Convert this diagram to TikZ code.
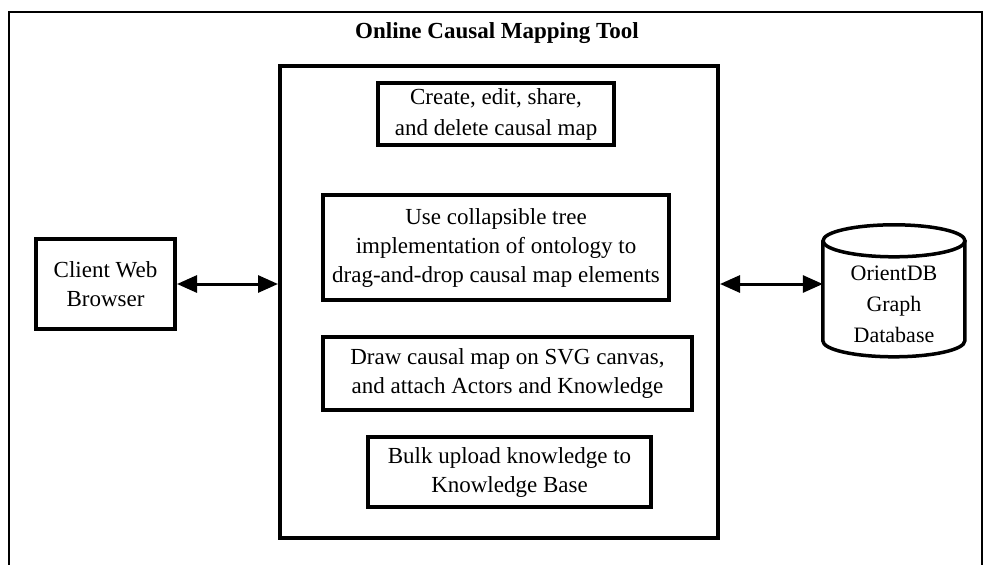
\documentclass[tikz,border=0pt]{standalone}
\usepackage{fontspec}
\setmainfont{Liberation Serif}
\usetikzlibrary{arrows.meta}
\begin{document}
\begin{tikzpicture}[x=1pt,y=-1pt,
  box/.style={draw, line width=4pt, align=center, inner sep=0pt,
    font=\fontsize{23}{29}\selectfont},
  link/.style={line width=3pt,
    {Triangle[length=20pt,width=17pt]}-{Triangle[length=20pt,width=17pt]}},
  frame/.style={line width=2pt},
  dbline/.style={line width=3.5pt},
  ]
\useasboundingbox (0,0) rectangle (983,565);

% outer frame (open at the bottom)
\draw[frame] (9,565) -- (9,12) -- (982,12) -- (982,565);

% title
\node[font=\fontsize{23}{28}\selectfont\bfseries] (title) at (497,33) {Online Causal Mapping Tool};

% tool container and its functions
\node[box, minimum width=438, minimum height=472] (main) at (499,302) {};
\node[box, minimum width=236, minimum height=62,
  font=\fontsize{23}{31}\selectfont] (create) at (496,114)
  {Create, edit, share,\\and delete causal map};
\node[box, minimum width=346, minimum height=105] (tree) at (496,247.5)
  {Use collapsible tree\\implementation of ontology to\\drag-and-drop causal map elements};
\node[box, minimum width=369, minimum height=73] (draw) at (507.5,373.5)
  {Draw causal map on SVG canvas,\\and attach Actors and Knowledge};
\node[box, minimum width=283, minimum height=70] (bulk) at (509.5,472)
  {Bulk upload knowledge to\\Knowledge Base};

% client
\node[box, minimum width=139, minimum height=90] (client) at (105.5,284)
  {Client Web\\Browser};

% database cylinder
\node[inner sep=0pt, minimum width=142, minimum height=132] (db) at (894,291) {};
\draw[dbline] (db.north west) ++(0,16) -- ++(0,100)
  arc[start angle=180, end angle=360, x radius=71pt, y radius=16pt] -- ++(0,-100);
\draw[dbline] (db.north) ++(0,16) ellipse[x radius=71pt, y radius=16pt];
\node[align=center, font=\fontsize{22}{31}\selectfont] (dbtext) at (894,304)
  {OrientDB\\Graph\\Database};

% connections
\draw[link] (client.east) -- (client.east -| main.west);
\draw[link] (main.east |- client.east) -- (client.east -| db.west);
\end{tikzpicture}
\end{document}
